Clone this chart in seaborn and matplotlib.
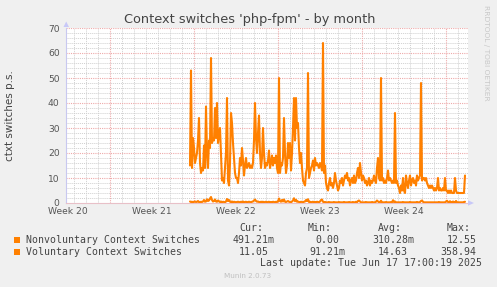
import numpy as np
import pandas as pd
import matplotlib
matplotlib.use("Agg")
import matplotlib.pyplot as plt
import seaborn as sns
from matplotlib.patches import Rectangle, Polygon

# ---------------- data ----------------
series_names = ["Nonvoluntary Context Switches", "Voluntary Context Switches"]
start_time = "2025-05-25 16:00"          # first sample, 2-hour resolution
week20_start = "2025-05-12"              # Monday of ISO week 20
week_labels = ["Week 20", "Week 21", "Week 22", "Week 23", "Week 24"]

voluntary = [
    15, 53, 14, 26, 22, 16, 18, 20, 25, 34, 16, 12,
    14, 13, 23, 14, 38.6, 20, 14, 25, 22, 58, 24, 26,
    25, 38, 26, 40, 24, 28, 30, 20, 9, 10, 8, 14,
    20, 42, 9, 7, 16, 36, 32, 24, 18, 12, 10, 10,
    8, 12, 18, 15, 22, 17, 11, 15, 18, 14, 15, 16,
    14, 15, 14, 16, 25, 40, 26, 20, 28, 35, 20, 14,
    18, 30, 20, 14, 16, 15, 17, 21, 14, 16, 19, 15,
    18, 16, 19, 14, 12, 50, 12, 16, 15, 18, 34, 20,
    12, 15, 24, 18, 24, 13, 20, 30, 42, 25, 42, 30,
    32, 22, 16, 20, 14, 9, 8, 7, 12, 14, 52, 10,
    12, 14, 15, 17, 13, 18, 15, 16, 15, 14, 16, 15,
    13, 64, 12, 15, 8, 6, 5, 8, 10, 7, 8, 6,
    8, 12, 9, 7, 5, 6, 9, 8, 10, 7, 9, 11,
    10, 12, 9, 10, 7, 9, 10, 8, 11, 8, 9, 12,
    14, 10, 16, 12, 9, 11, 10, 8, 9, 7, 8, 10,
    7, 9, 8, 9, 11, 9, 8, 14, 18, 10, 9, 50,
    9, 10, 8, 9, 8, 10, 13, 9, 10, 9, 8, 9,
    8, 36, 8, 9, 7, 6, 4, 7, 5, 10, 5, 4,
    11, 8, 6, 9, 11, 7, 9, 10, 8, 9, 7, 11,
    9, 10, 11, 48, 9, 10, 10, 9, 10, 8, 7, 6,
    7, 6, 7, 6, 5, 6, 5, 6, 10, 5, 6, 5,
    5, 6, 5, 10, 5, 5, 4, 5, 4, 5, 4, 4,
    4, 10, 5, 4, 4, 4, 4, 4, 4, 4, 4, 11,
]

nonvoluntary = [
    0.6, 0.4, 0.5, 0.3, 0.5, 0.6, 0.4, 0.5, 0.8, 0.4, 0.3, 0.5,
    0.4, 0.6, 1.2, 0.5, 0.7, 1.5, 0.8, 1.0, 1.8, 2.4, 1.2, 0.6,
    0.8, 1.4, 0.6, 0.5, 1.0, 0.7, 0.4, 0.6, 0.3, 0.5, 0.4, 0.3,
    0.6, 1.6, 0.8, 1.2, 0.5, 0.4, 0.6, 0.3, 0.5, 0.4, 0.3, 0.4,
    0.5, 0.4, 0.3, 0.5, 0.4, 0.6, 0.3, 0.4, 0.5, 0.3, 0.4, 0.5,
    0.4, 0.3, 0.5, 0.6, 1.0, 1.4, 0.8, 0.5, 0.6, 0.4, 0.3, 0.5,
    0.4, 0.5, 0.3, 0.4, 0.5, 0.3, 0.4, 0.5, 0.3, 0.4, 0.3, 0.5,
    0.4, 0.3, 0.5, 0.4, 0.6, 1.8, 0.8, 0.5, 1.2, 0.6, 1.4, 0.5,
    0.4, 0.6, 0.8, 0.5, 0.4, 0.3, 0.6, 1.0, 1.9, 0.7, 1.3, 0.5,
    0.6, 0.4, 0.3, 0.5, 0.4, 0.3, 0.5, 0.6, 1.2, 0.8, 1.5, 0.4,
    0.5, 0.3, 0.4, 0.5, 0.3, 0.4, 0.3, 0.5, 0.4, 0.3, 0.6, 1.2,
    1.4, 0.5, 0.3, 0.4, 0.3, 0.2, 0.3, 0.4, 0.2, 0.3, 0.2, 0.3,
    0.4, 0.2, 0.3, 0.2, 0.3, 0.4, 0.2, 0.3, 0.2, 0.3, 0.4, 0.3,
    0.2, 0.3, 0.2, 0.4, 0.3, 0.2, 0.3, 0.4, 0.2, 0.3, 0.5, 0.3,
    0.8, 1.0, 0.6, 0.3, 0.2, 0.3, 0.2, 0.3, 0.4, 0.2, 0.3, 0.2,
    0.3, 0.2, 0.4, 0.3, 0.2, 0.3, 0.5, 1.0, 0.6, 0.3, 0.4, 0.9,
    0.3, 0.2, 0.3, 0.2, 0.4, 0.3, 0.2, 0.3, 0.2, 0.4, 0.3, 1.1,
    0.4, 0.6, 0.3, 0.2, 0.3, 0.2, 0.3, 0.2, 0.3, 0.4, 0.2, 0.3,
    0.2, 0.3, 0.2, 0.3, 0.4, 0.2, 0.3, 0.2, 0.3, 0.2, 0.3, 0.4,
    0.3, 0.2, 0.4, 0.8, 1.0, 0.5, 0.3, 0.2, 0.3, 0.2, 0.3, 0.2,
    0.3, 0.2, 0.3, 0.2, 0.3, 0.2, 0.3, 0.2, 0.3, 0.4, 0.2, 0.3,
    0.2, 0.3, 0.2, 0.3, 0.6, 0.9, 0.4, 0.3, 0.7, 0.3, 0.2, 0.6,
    0.3, 0.2, 0.8, 0.3, 0.2, 0.3, 0.2, 0.3, 0.2, 0.3, 0.4, 0.5,
]

stats_header = ["Cur:", "Min:", "Avg:", "Max:"]
stats_nonvol = ["491.21", "0.00", "310.28", "12.55"]
units_nonvol = ["m", "", "m", ""]
stats_vol = ["11.05", "91.21", "14.63", "358.94"]
units_vol = ["", "m", "", ""]

title = "Context switches 'php-fpm' - by month"
ylabel = "ctxt switches p.s."
last_update = "Last update: Tue Jun 17 17:00:19 2025"
footer = "Munin 2.0.73"
side_text = "RRDTOOL / TOBI OETIKER"

# ---------------- build frame ----------------
times = pd.date_range(start_time, periods=len(voluntary), freq="2h")
days = (times - pd.Timestamp(week20_start)) / pd.Timedelta(days=1)
df = pd.DataFrame({
    "day": np.concatenate([days, days]),
    "value": np.concatenate([nonvoluntary, voluntary]),
    "series": [series_names[0]] * len(days) + [series_names[1]] * len(days),
})

# ---------------- figure ----------------
W, H = 497, 287
sns.set_style("white")
plt.rcParams["font.family"] = ["DejaVu Sans"]
fig = plt.figure(figsize=(W / 100, H / 100), dpi=100, facecolor="#f0f0f0")

L, R, T, B = 66, 468, 28, 203
ax = fig.add_axes([L / W, 1 - B / H, (R - L) / W, (B - T) / H])
ax.set_facecolor("white")

orange = "#ff8000"
xmin, xmax = (L - 26) / 12, (R - 26) / 12
ax.set_xlim(xmin, xmax)
ax.set_ylim(0, 70)

# grid
grey = "#d0d0d0"
red = "#eeaaaa"
for d in range(int(np.ceil(xmin)), int(xmax) + 1):
    if d % 7 == 0:
        continue
    ax.axvline(d, color=grey, lw=0.7, ls=(0, (1, 1)), zorder=0)
for y in range(2, 70, 2):
    if y % 10 == 0:
        continue
    ax.axhline(y, color=grey, lw=0.7, ls=(0, (1, 1)), zorder=0)
for y in range(10, 71, 10):
    ax.axhline(y, color=red, lw=0.8, ls=(0, (1, 1)), zorder=0.5)
for d in range(7, 37, 7):
    ax.axvline(d, color=red, lw=0.8, ls=(0, (1, 1)), zorder=0.5)

sns.lineplot(data=df, x="day", y="value", hue="series",
             palette=[orange, orange], linewidth=1.5, legend=False,
             ax=ax, zorder=3)

# ticks
ax.set_yticks(range(0, 71, 10))
ax.set_xticks([3.5 + 7 * i for i in range(len(week_labels))])
ax.set_xticklabels(week_labels)
ax.tick_params(axis="both", length=0, labelsize=6.6, colors="#555555")
ax.tick_params(axis="y", pad=4.5)
ax.tick_params(axis="x", pad=3)
ax.set_xlabel("")
ax.set_ylabel("")

for s in ["top", "right"]:
    ax.spines[s].set_visible(False)
ax.spines["left"].set_color("#c8c8f0")
ax.spines["bottom"].set_color("#e8c0c8")
ax.spines["left"].set_linewidth(0.8)
ax.spines["bottom"].set_linewidth(0.8)


def fx(x):
    return x / W


def fy(y):
    return 1 - y / H


# arrows
fig.patches.append(Polygon([(fx(63.5), fy(27)), (fx(69), fy(27)), (fx(66.2), fy(21.5))],
                           closed=True, transform=fig.transFigure,
                           facecolor="#c8c8f8", edgecolor="none"))
fig.patches.append(Polygon([(fx(468), fy(200.3)), (fx(468), fy(205.7)), (fx(474), fy(203))],
                           closed=True, transform=fig.transFigure,
                           facecolor="#c8c8f8", edgecolor="none"))

# titles
fig.text(fx(250), fy(19.5), title, ha="center", va="center", fontsize=9.3, color="#444444")
fig.text(fx(10), fy(115.5), ylabel, ha="center", va="center", rotation=90,
         fontsize=7.5, color="#444444")
fig.text(fx(486), fy(5), side_text, ha="center", va="top", rotation=270,
         fontsize=5.4, color="#c8c8c8")

# legend
mono = "DejaVu Sans Mono"
lfs = 7.1
lcol = "#444444"
cw = 5.97  # approx. monospace char width in px
col_ends = [269, 339, 408, 476.5]
hdr_x = [239, 308, 377.7, 446.7]
for x, h in zip(hdr_x, stats_header):
    fig.text(fx(x), fy(228), h, ha="left", va="center", family=mono, fontsize=lfs, color=lcol)

rows_y = [239.7, 251.7]
for ry, name, vals, units in zip(rows_y, series_names,
                                 [stats_nonvol, stats_vol], [units_nonvol, units_vol]):
    fig.patches.append(Rectangle((fx(14), fy(ry + 3)), 6 / W, 6 / H,
                                 transform=fig.transFigure, facecolor=orange, edgecolor="none"))
    fig.text(fx(26), fy(ry), name, ha="left", va="center", family=mono, fontsize=lfs, color=lcol)
    for xe, v, u in zip(col_ends, vals, units):
        fig.text(fx(xe + cw * len(u)), fy(ry), v + u, ha="right", va="center",
                 family=mono, fontsize=lfs, color=lcol)

fig.text(fx(482.3), fy(263.3), last_update, ha="right", va="center", family=mono,
         fontsize=lfs, color=lcol)
fig.text(fx(248), fy(276), footer, ha="center", va="center", fontsize=5.2, color="#c0c0c0")

fig.savefig("out.png", dpi=100, facecolor=fig.get_facecolor())
